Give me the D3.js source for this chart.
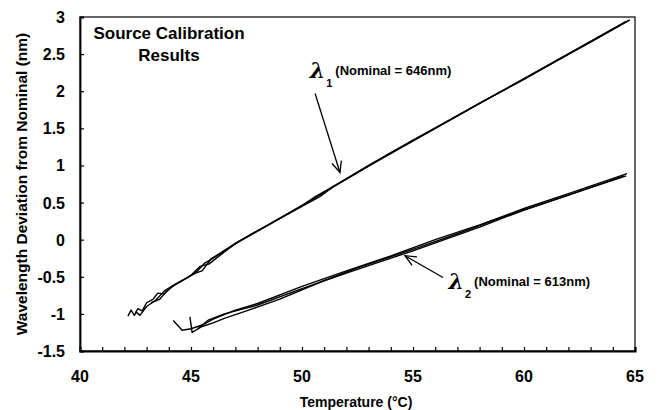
<!DOCTYPE html>
<html>
<head>
<meta charset="utf-8">
<style>
  body { margin: 0; background: #fff; }
  text { font-family: "Liberation Sans", Arial, sans-serif; font-weight: bold; fill: #000; }
</style>
</head>
<body>
<svg width="659" height="410"></svg>
<script src="https://d3js.org/d3.v7.min.js"></script>
<script>
  // lambda 1 runs (temperature, deviation nm)
  const lambda1RunA = [[42.16,-1.03],[42.3,-0.95],[42.45,-1.02],[42.6,-0.93],[42.8,-0.96],[43.0,-0.85],[43.3,-0.8],[43.5,-0.72],[43.8,-0.73],[44.2,-0.62],[44.8,-0.52],[45.3,-0.42],[45.6,-0.32],[46.0,-0.25],[47.2,-0.02],[48.5,0.2],[50,0.46],[50.6,0.58],[51.2,0.68],[52,0.82],[54,1.17],[56,1.5],[58,1.84],[60,2.16],[62,2.5],[64.77,2.96]];
  const lambda1RunB = [[42.5,-0.97],[42.7,-1.02],[43.0,-0.9],[43.4,-0.82],[43.8,-0.69],[44.3,-0.6],[45.2,-0.45],[45.5,-0.42],[45.9,-0.26],[47,-0.05],[49,0.29],[50.4,0.53],[51,0.64],[53,1.0],[55,1.34],[57,1.67],[59,2.0],[61,2.33],[63,2.66],[64.7,2.95]];
  const lambda1RunC = [[43.2,-0.85],[43.6,-0.8],[44,-0.66],[45,-0.48],[45.4,-0.36],[45.8,-0.33],[47,-0.05],[48,0.12],[50,0.45],[50.8,0.58],[51.4,0.71],[53,0.99],[56,1.5],[60,2.17],[64.6,2.94]];
  // lambda 2 runs
  const lambda2RunA = [[44.2,-1.09],[44.6,-1.22],[45.0,-1.2],[45.5,-1.15],[46,-1.07],[47,-0.95],[48,-0.86],[50,-0.63],[52,-0.42],[54,-0.22],[56,0.0],[58,0.2],[60,0.42],[62,0.62],[64.64,0.89]];
  const lambda2RunB = [[44.95,-1.04],[45.05,-1.25],[45.5,-1.17],[46,-1.12],[46.5,-1.06],[47.5,-0.96],[49,-0.8],[51,-0.55],[52.5,-0.38],[55,-0.13],[57,0.08],[59,0.3],[61,0.5],[63,0.7],[64.6,0.86]];
  const lambda2RunC = [[45.3,-1.2],[45.8,-1.08],[46.5,-1.0],[48,-0.88],[50,-0.66],[52,-0.45],[53,-0.35],[55,-0.15],[58,0.17],[60,0.4],[62,0.6],[64.5,0.86]];

  const xTicks = [40, 45, 50, 55, 60, 65];
  const xMinorTicks = d3.range(40, 66, 1);
  const yTicks = [-1.5, -1, -0.5, 0, 0.5, 1, 1.5, 2, 2.5, 3];

  const svg = d3.select("svg");
  const margin = { left: 80, right: 24, top: 17, bottom: 59 };
  const width = 659 - margin.left - margin.right;
  const height = 410 - margin.top - margin.bottom;

  const x = d3.scaleLinear().domain([40, 65]).range([0, width]);
  const y = d3.scaleLinear().domain([-1.5, 3]).range([height, 0]);

  const g = svg.append("g").attr("transform", `translate(${margin.left},${margin.top})`);

  // frame
  g.append("rect")
    .attr("width", width).attr("height", height)
    .attr("fill", "none").attr("stroke", "#000").attr("stroke-width", 1.2);

  // x axis with small inward ticks every degree
  const xAxis = g.append("g").attr("transform", `translate(0,${height})`)
    .call(d3.axisBottom(x).tickValues(xMinorTicks).tickSize(-4).tickFormat(""));
  xAxis.select(".domain").attr("stroke-width", 2.2);
  xAxis.selectAll(".tick line").attr("stroke-width", 1.2);

  g.selectAll(".xlab").data(xTicks).enter().append("text")
    .attr("x", d => x(d)).attr("y", height + 31)
    .attr("text-anchor", "middle").style("font-size", "16px")
    .text(d => d);

  const yAxis = g.append("g")
    .call(d3.axisLeft(y).tickValues(yTicks).tickSize(-4).tickFormat(""));
  yAxis.select(".domain").attr("stroke-width", 1.8);
  yAxis.selectAll(".tick line").attr("stroke-width", 1.2);

  g.selectAll(".ylab").data(yTicks).enter().append("text")
    .attr("x", -15).attr("y", d => y(d) + 6)
    .attr("text-anchor", "end").style("font-size", "16px")
    .text(d => d);

  // axis titles
  g.append("text")
    .attr("x", 276).attr("y", height + 56)
    .attr("text-anchor", "middle").style("font-size", "14px")
    .text("Temperature (°C)");
  g.append("text")
    .attr("transform", `translate(-53,${height / 2}) rotate(-90)`)
    .attr("text-anchor", "middle").style("font-size", "15.5px")
    .text("Wavelength Deviation from Nominal (nm)");

  // data lines
  const line = d3.line().x(d => x(d[0])).y(d => y(d[1])).curve(d3.curveLinear);
  const runs = [lambda1RunA, lambda1RunB, lambda1RunC, lambda2RunA, lambda2RunB, lambda2RunC];
  g.selectAll(".run").data(runs).enter().append("path")
    .attr("d", line)
    .attr("fill", "none").attr("stroke", "#000").attr("stroke-width", 1.4)
    .attr("stroke-linejoin", "round");

  // chart title
  g.append("text").attr("x", 89).attr("y", 22).attr("text-anchor", "middle")
    .style("font-size", "17px").text("Source Calibration");
  g.append("text").attr("x", 89).attr("y", 44).attr("text-anchor", "middle")
    .style("font-size", "17px").text("Results");

  // annotations
  function arrow(x0, y0, x1, y1) {
    const px0 = x(x0), py0 = y(y0), px1 = x(x1), py1 = y(y1);
    g.append("line").attr("x1", px0).attr("y1", py0).attr("x2", px1).attr("y2", py1)
      .attr("stroke", "#000").attr("stroke-width", 1.3);
    const a = Math.atan2(py1 - py0, px1 - px0);
    const L = 12, s = 0.42;
    const p1 = [px1 - L * Math.cos(a - s), py1 - L * Math.sin(a - s)];
    const p2 = [px1 - L * Math.cos(a + s), py1 - L * Math.sin(a + s)];
    g.append("path").attr("d", `M${p1}L${px1},${py1}L${p2}`)
      .attr("fill", "none").attr("stroke", "#000").attr("stroke-width", 1.3);
  }
  function label(xv, yv, sub, txt) {
    const t = g.append("text").attr("x", x(xv)).attr("y", y(yv));
    t.append("tspan").style("font-size", "22px")
      .style("font-family", "'DejaVu Serif', serif").style("font-style", "italic")
      .style("font-weight", "bold").text("λ");
    t.append("tspan").attr("dx", 1).attr("dy", 9).style("font-size", "11px").text(sub);
    t.append("tspan").attr("dx", 3).attr("dy", -12).style("font-size", "13px").text(txt);
  }
  arrow(50.59, 1.97, 51.71, 0.905);
  label(50.35, 2.18, "1", "(Nominal = 646nm)");
  arrow(56.35, -0.51, 54.64, -0.216);
  label(56.6, -0.66, "2", "(Nominal = 613nm)");
</script>
</body>
</html>
